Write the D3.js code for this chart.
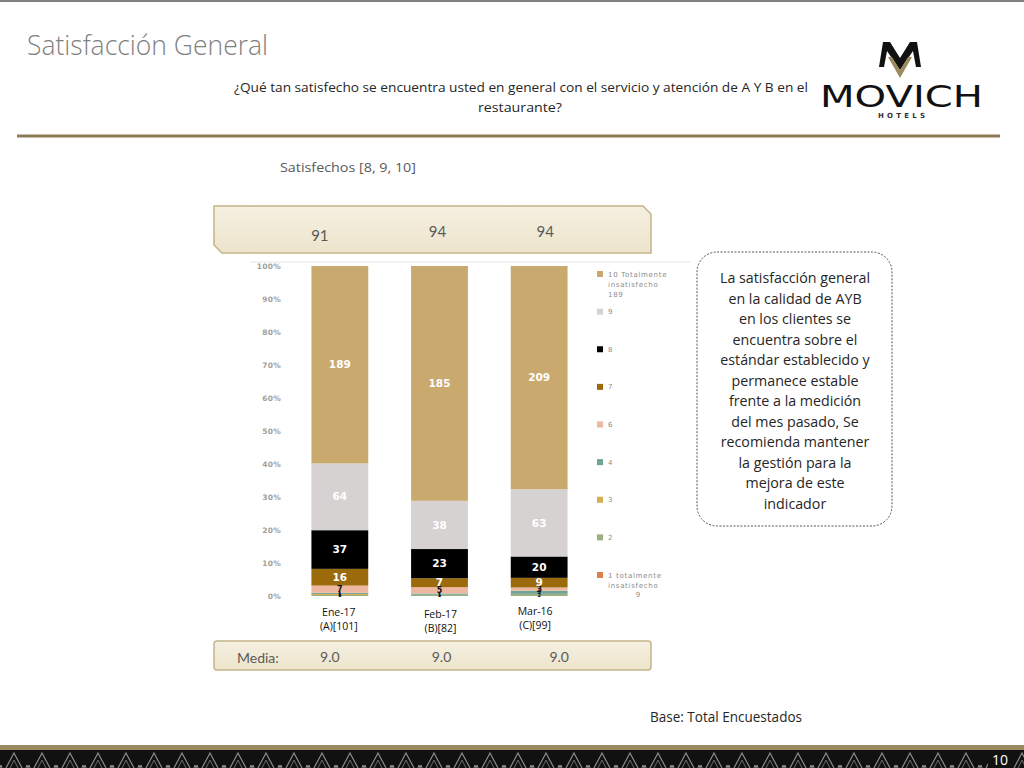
<!DOCTYPE html>
<html><head><meta charset="utf-8">
<script src="https://cdn.jsdelivr.net/npm/d3@7"></script>
<style>body{margin:0;background:#fff}svg{display:block}</style>
</head><body>
<svg id="c" width="1024" height="768"></svg>
<script>
// ---------- data ----------
const categories = ["Ene-17", "Feb-17", "Mar-16"];
const categoryBases = ["(A)[101]", "(B)[82]", "(C)[99]"];
const seriesKeys = ["1", "2", "3", "4", "6", "7", "8", "9", "10"];
const s10 = [189, 185, 209];
const s9  = [64, 38, 63];
const s8  = [37, 23, 20];
const s7  = [16, 7, 9];
const s6  = [7, 5, 3];
const s4  = [1, 1, 3];
const s3  = [1, 0, 0];
const s2  = [1, 1, 2];
const s1  = [0, 0, 0];
const satisfied = ["91", "94", "94"];
const media = ["9.0", "9.0", "9.0"];
const yTicks = [0, 0.1, 0.2, 0.3, 0.4, 0.5, 0.6, 0.7, 0.8, 0.9, 1];
const legendLabels = {
  "10": ["10 Totalmente", "insatisfecho", "189"], "9": ["9"], "8": ["8"], "7": ["7"],
  "6": ["6"], "4": ["4"], "3": ["3"], "2": ["2"], "1": ["1 totalmente", "insatisfecho"]
};
const noteLines = ["La satisfacción general", "en la calidad de AYB", "en los clientes se",
  "encuentra sobre el", "estándar establecido y", "permanece estable", "frente a la medición",
  "del mes pasado, Se", "recomienda mantener", "la gestión para la", "mejora de este", "indicador"];

const colors = {"10":"#C9A96E","9":"#D5D2D1","8":"#000000","7":"#9B6A0A","6":"#EEB79F",
  "4":"#6FA395","3":"#D2B04E","2":"#9DAE80","1":"#D9804D"};

const seriesVals = {"10":s10,"9":s9,"8":s8,"7":s7,"6":s6,"4":s4,"3":s3,"2":s2,"1":s1};
const table = categories.map((c, i) => {
  const o = {cat: c};
  seriesKeys.forEach(k => o[k] = seriesVals[k][i]);
  return o;
});

const svg = d3.select("#c");
function fit(sel, width) {
  const w = sel.node().getComputedTextLength();
  const fs = parseFloat(sel.attr("font-size"));
  sel.attr("font-size", fs * width / w);
  return sel;
}

// ---------- page frame ----------
svg.append("rect").attr("x",0).attr("y",0).attr("width",1024).attr("height",2).attr("fill","#808080");
svg.append("text").attr("x",27).attr("y",55).attr("font-family","Open Sans").attr("font-weight",300)
  .attr("font-size",28).attr("fill","#7F7F7F").attr("textLength",241).attr("lengthAdjust","spacingAndGlyphs")
  .text("Satisfacción General");

const subFs = 13.5;
svg.append("text").attr("x",234).attr("y",92)
  .attr("font-family","Open Sans").attr("font-size",subFs).attr("fill","#262626")
  .attr("textLength",574).attr("lengthAdjust","spacingAndGlyphs")
  .text("¿Qué tan satisfecho se encuentra usted en general con el servicio y atención de A Y B en el");
svg.append("text").attr("x",478).attr("y",112)
  .attr("font-family","Open Sans").attr("font-size",subFs).attr("fill","#262626")
  .attr("textLength",84).attr("lengthAdjust","spacingAndGlyphs").text("restaurante?");

svg.append("rect").attr("x",17).attr("y",134.5).attr("width",983).attr("height",3).attr("fill","#8C7B55");

// logo
const logo = svg.append("g");
logo.append("path").attr("d","M883,42 L890,42 L900,58 L910,42 L917,42 L921,67 L916,67 L913,51 L900,70 L887,51 L884,67 L879,67 Z").attr("fill","#111");
logo.append("path").attr("d","M888,57 L892,57 L900,70 L908,57 L912,57 L900,78 Z").attr("fill","#9C8A5E");
logo.append("text").attr("x",820).attr("y",107).attr("font-family","DejaVu Sans").attr("font-weight",400)
  .attr("font-size",30).attr("fill","#111").attr("textLength",163).attr("lengthAdjust","spacingAndGlyphs").text("MOVICH");
logo.append("text").attr("x",878).attr("y",118).attr("font-family","DejaVu Sans").attr("font-weight","bold")
  .attr("font-size",7).attr("fill","#333").attr("textLength",47).attr("lengthAdjust","spacing").text("HOTELS");

// ---------- chart ----------
const x = d3.scaleBand().domain(categories).range([290, 589]).paddingInner(0.43).paddingOuter(0.215);
const y = d3.scaleLinear().domain([0, 1]).range([596, 266]);

svg.append("text").attr("x",280).attr("y",172).attr("font-family","Open Sans").attr("font-size",13)
  .attr("fill","#595959").attr("textLength",136).attr("lengthAdjust","spacingAndGlyphs").text("Satisfechos [8, 9, 10]");

// top panel
const panelFill = svg.append("defs").append("linearGradient").attr("id","pg").attr("x1",0).attr("y1",0).attr("x2",0).attr("y2",1);
panelFill.append("stop").attr("offset",0).attr("stop-color","#F5F0E2");
panelFill.append("stop").attr("offset",1).attr("stop-color","#EDE4CB");
svg.append("path").attr("d","M214,206 L643,206 L651,214 L651,253 L222,253 L214,245 Z")
  .attr("fill","url(#pg)").attr("stroke","#C3B48B").attr("stroke-width",1.5);
svg.append("g").selectAll("text").data(categories).join("text")
  .attr("x",(d,i)=>x(d)+x.bandwidth()/2 + [-20,-2,6][i])
  .attr("y",(d,i)=>[241,237,237][i]).attr("text-anchor","middle")
  .attr("font-family","Lato").attr("font-size",15).attr("fill","#5A5A5A")
  .text((d,i)=>satisfied[i]);

// frame line of chart area
svg.append("line").attr("x1",250).attr("x2",690).attr("y1",262).attr("y2",262).attr("stroke","#E6E6E6");

// y axis
const yAxis = svg.append("g").attr("transform","translate(281,0)")
  .call(d3.axisLeft(y).tickValues(yTicks).tickFormat(d3.format(".0%")).tickSize(0).tickPadding(0));
yAxis.select(".domain").remove();
yAxis.selectAll("text").attr("font-family","DejaVu Sans").attr("font-size",7.5).attr("font-weight","bold")
  .attr("letter-spacing",0.3).attr("fill","#A0A0A0");

// bars
const stack = d3.stack().keys(seriesKeys).offset(d3.stackOffsetExpand);
const layers = stack(table);
const g = svg.append("g");
g.selectAll("g").data(layers).join("g").attr("fill", d => colors[d.key])
  .selectAll("rect").data(d => d).join("rect")
  .attr("x", d => x(d.data.cat)).attr("width", x.bandwidth())
  .attr("y", d => y(d[1])).attr("height", d => y(d[0]) - y(d[1]));

// segment labels
layers.forEach(layer => {
  const big = ["7","8","9","10"].includes(layer.key);
  layer.forEach(d => {
    const v = d.data[layer.key];
    if (!v) return;
    svg.append("text").attr("x", x(d.data.cat) + x.bandwidth()/2)
      .attr("y", (y(d[0]) + y(d[1]))/2).attr("dy","0.35em").attr("text-anchor","middle")
      .attr("font-family","DejaVu Sans").attr("font-weight","bold")
      .attr("font-size", big ? 10.5 : (layer.key === "6" ? 8 : 5))
      .attr("fill", big ? "#fff" : "#111").text(v);
  });
});

// category labels
svg.append("g").selectAll("text").data(categories).join("text")
  .attr("x", (d,i) => x(d) + x.bandwidth()/2 + [-1,1,-4][i]).attr("y",(d,i)=>[616,618,615][i])
  .attr("text-anchor","middle").attr("font-family","Open Sans").attr("font-size",10.5).attr("fill","#111")
  .each(function(d,i){
    d3.select(this).append("tspan").attr("x", x(d)+x.bandwidth()/2+[-1,1,-4][i]).text(d);
    d3.select(this).append("tspan").attr("x", x(d)+x.bandwidth()/2+[-1,1,-4][i]).attr("dy",14).text(categoryBases[i]);
  });

// legend
const ly = d3.scalePoint().domain(seriesKeys.slice().reverse()).range([274, 575]);
const leg = svg.append("g");
seriesKeys.forEach(k => {
  leg.append("rect").attr("x",597).attr("y",ly(k)-3).attr("width",6).attr("height",6).attr("fill",colors[k]);
  const t = leg.append("text").attr("x",608).attr("y",ly(k)+2.5).attr("font-family","DejaVu Sans")
    .attr("font-size",7).attr("letter-spacing",0.7).attr("fill","#8C8C8C");
  legendLabels[k].forEach((l, j) => t.append("tspan").attr("x",608).attr("dy", j ? 10 : 0).text(l));
});
leg.append("text").attr("x",638).attr("y",597).attr("text-anchor","middle").attr("font-family","DejaVu Sans")
  .attr("font-size",7).attr("fill","#8C8C8C").text("9");

// media panel
svg.append("rect").attr("x",214).attr("y",641).attr("width",437).attr("height",29).attr("rx",3)
  .attr("fill","url(#pg)").attr("stroke","#C3B48B").attr("stroke-width",1.5);
svg.append("text").attr("x",237).attr("y",663).attr("font-family","Lato").attr("font-size",14)
  .attr("fill","#5A5A5A").text("Media:");
svg.append("g").selectAll("text").data(categories).join("text")
  .attr("x",(d,i)=>x(d)+x.bandwidth()/2 + [-10,2,20][i]).attr("y",662).attr("text-anchor","middle")
  .attr("font-family","Lato").attr("font-size",14).attr("fill","#5A5A5A").text((d,i)=>media[i]);

// note box
svg.append("rect").attr("x",697).attr("y",252).attr("width",195).attr("height",274).attr("rx",20)
  .attr("fill","#fff").attr("stroke","#555").attr("stroke-width",1).attr("stroke-dasharray","2,1.5");
const first = svg.append("text").attr("font-family","Open Sans").attr("font-size",14).text(noteLines[0]);
const ratio = 150 / first.node().getComputedTextLength();
first.remove();
const nfs = 15;
svg.append("g").selectAll("text").data(noteLines).join("text")
  .attr("x",795).attr("y",(d,i)=>283 + i*20.5).attr("text-anchor","middle")
  .attr("font-family","Open Sans").attr("font-size",nfs).attr("fill","#262626")
  .each(function(){
    const w = this.getComputedTextLength();
    d3.select(this).attr("textLength", w * ratio * 14 / nfs).attr("lengthAdjust","spacingAndGlyphs");
  })
  .text(d=>d)
  .each(function(){
    const w = this.getComputedTextLength();
    d3.select(this).attr("textLength", w * ratio * 14 / nfs).attr("lengthAdjust","spacingAndGlyphs");
  });

// base text
svg.append("text").attr("x",650).attr("y",722).attr("font-family","Open Sans").attr("font-size",14)
  .attr("fill","#262626").attr("textLength",152).attr("lengthAdjust","spacingAndGlyphs").text("Base: Total Encuestados");

// ---------- bottom band ----------
svg.append("rect").attr("x",0).attr("y",745).attr("width",1024).attr("height",5).attr("fill","#9A8A5E");
const pat = svg.select("defs").append("pattern").attr("id","tri").attr("patternUnits","userSpaceOnUse")
  .attr("x",0).attr("y",750).attr("width",28).attr("height",18);
pat.append("rect").attr("width",28).attr("height",18).attr("fill","#111");
pat.append("path").attr("d","M6,18 L14,3 L22,18").attr("fill","none").attr("stroke","#8A8A8A").attr("stroke-width",1.2);
pat.append("path").attr("d","M10,18 L14,10 L18,18").attr("fill","none").attr("stroke","#6A6A6A").attr("stroke-width",1);
pat.append("path").attr("d","M0,18 L1,15 L2,18 M26,18 L27,15 L28,18").attr("fill","none").attr("stroke","#8A8A8A").attr("stroke-width",1);
svg.append("rect").attr("x",0).attr("y",750).attr("width",1024).attr("height",18).attr("fill","url(#tri)");
svg.append("rect").attr("x",988).attr("y",750).attr("width",24).attr("height",18).attr("fill","#111");
svg.append("text").attr("x",1000).attr("y",765).attr("text-anchor","middle").attr("font-family","Liberation Sans Narrow, Open Sans")
  .attr("font-size",14).attr("fill","#fff").text("10");
</script>
</body></html>
